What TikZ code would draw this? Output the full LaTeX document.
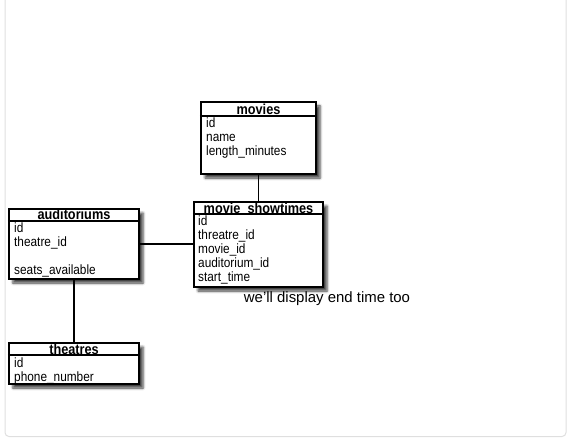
\documentclass[tikz,border=0pt]{standalone}
\usepackage{fontspec}
\setmainfont{Liberation Sans}
\newfontfamily\tablefont[FakeStretch=0.88]{Liberation Sans}
\usetikzlibrary{shadows.blur}
\begin{document}
\begin{tikzpicture}[x=1bp,y=-1bp,
    tablebox/.style={draw, line width=2.2bp, fill=white, inner sep=0pt,
      blur shadow={shadow xshift=4bp, shadow yshift=-4bp, shadow blur radius=2.5bp, shadow opacity=75}},
    headrule/.style={line width=1.4bp},
    headtext/.style={font=\tablefont\fontsize{14.5}{16}\selectfont\bfseries, anchor=base, inner sep=0pt},
    fieldtext/.style={font=\tablefont\fontsize{13.5}{15}\selectfont, anchor=base west, inner sep=0pt},
    notetext/.style={font=\fontsize{15}{18}\selectfont, inner sep=0pt},
    link/.style={line width=1.6bp}]
  % \clip (0,0) rectangle (576,438);
  \useasboundingbox (0,0) rectangle (576,438);

  % Drawing frame
  \draw [gray!25, line width=1bp, rounded corners=4bp] (5,-6) rectangle (566,436.5);%

  % Drawing table movies
  \node [tablebox, minimum width=115bp, minimum height=72bp] (movies) at (258.5,138) {};%
  \draw [headrule] ([yshift=-15bp]movies.north west) -- ([yshift=-15bp]movies.north east);%
  \node [headtext] (movies-head) at (258.5,114.5) {movies};%
  \node [fieldtext] (movies-id) at (206,128) {id};%
  \node [fieldtext] (movies-name) at (206,142) {name};%
  \node [fieldtext] (movies-length) at (206,156) {length\_minutes};%

  % Drawing table movie_showtimes
  \node [tablebox, minimum width=129bp, minimum height=85bp] (showtimes) at (258.5,244.5) {};%
  \draw [headrule] ([yshift=-13bp]showtimes.north west) -- ([yshift=-13bp]showtimes.north east);%
  \node [headtext] (showtimes-head) at (258.5,213.5) {movie\_showtimes};%
  \node [fieldtext] (showtimes-id) at (198,226) {id};%
  \node [fieldtext] (showtimes-theatre) at (198,240) {threatre\_id};%
  \node [fieldtext] (showtimes-movie) at (198,254) {movie\_id};%
  \node [fieldtext] (showtimes-auditorium) at (198,268) {auditorium\_id};%
  \node [fieldtext] (showtimes-start) at (198,282) {start\_time};%

  % Drawing table auditoriums
  \node [tablebox, minimum width=130bp, minimum height=70bp] (auditoriums) at (74,244) {};%
  \draw [headrule] ([yshift=-13bp]auditoriums.north west) -- ([yshift=-13bp]auditoriums.north east);%
  \node [headtext] (auditoriums-head) at (74,220) {auditoriums};%
  \node [fieldtext] (auditoriums-id) at (14,233) {id};%
  \node [fieldtext] (auditoriums-theatre) at (14,247) {theatre\_id};%
  \node [fieldtext] (auditoriums-seats) at (14,275) {seats\_available};%

  % Drawing table theatres
  \node [tablebox, minimum width=130bp, minimum height=41bp] (theatres) at (74,363.5) {};%
  \draw [headrule] ([yshift=-13bp]theatres.north west) -- ([yshift=-13bp]theatres.north east);%
  \node [headtext] (theatres-head) at (74,354) {theatres};%
  \node [fieldtext] (theatres-id) at (14,367) {id};%
  \node [fieldtext] (theatres-phone) at (14,381) {phone\_number};%

  % Drawing links
  \draw [link] (movies.south) -- (showtimes.north);%
  \draw [link] (auditoriums.east) -- (auditoriums.east -| showtimes.west);%
  \draw [link] (auditoriums.south) -- (theatres.north);%

  % Marking note
  \node [notetext] (note) at (327,299) {we'll display end time too};%
\end{tikzpicture}
\end{document}
